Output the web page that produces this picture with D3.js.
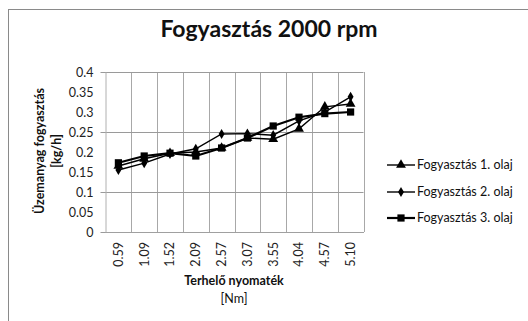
<!DOCTYPE html>
<html>
<head>
<meta charset="utf-8">
<script src="https://cdn.jsdelivr.net/npm/d3@7"></script>
<style>
  body { margin: 0; background: #fff; }
  svg { display: block; font-family: Lato, "Open Sans", sans-serif; }
</style>
</head>
<body>
<div id="chart"></div>
<script>
// data
var categories = ["0.59", "1.09", "1.52", "2.09", "2.57", "3.07", "3.55", "4.04", "4.57", "5.10"];
var olaj1 = [0.165, 0.183, 0.197, 0.200, 0.210, 0.235, 0.232, 0.258, 0.313, 0.320];
var olaj2 = [0.155, 0.172, 0.195, 0.208, 0.245, 0.246, 0.242, 0.278, 0.300, 0.338];
var olaj3 = [0.173, 0.190, 0.197, 0.190, 0.210, 0.235, 0.265, 0.287, 0.296, 0.300];
var seriesNames = ["Fogyasztás 1. olaj", "Fogyasztás 2. olaj", "Fogyasztás 3. olaj"];
var yTicks = [0, 0.05, 0.1, 0.15, 0.2, 0.25, 0.3, 0.35, 0.4];
var yGrid = [0, 0.1, 0.25, 0.4];

const width = 528;
const height = 321;

var plotLeft = 105.5, plotRight = 363.5, plotTop = 72, plotBottom = 232;

var series = [
    {name: seriesNames[0], values: olaj1, symbol: d3.symbolTriangle, size: 42, lw: 1.4},
    {name: seriesNames[1], values: olaj2, symbol: d3.symbolDiamond, size: 30, lw: 1.4},
    {name: seriesNames[2], values: olaj3, symbol: d3.symbolSquare, size: 52, lw: 2.2}
];

const svg = d3.select("#chart").append("svg")
    .attr("width", width)
    .attr("height", height);

// outer chart frame (only left and top visible)
svg.append("rect")
    .attr("x", 8.5).attr("y", 9.5)
    .attr("width", 540).attr("height", 340)
    .style("fill", "none")
    .style("stroke", "#8a8a8a")
    .style("stroke-width", 1);

// title
svg.append("text")
    .attr("x", 269).attr("y", 37)
    .attr("text-anchor", "middle")
    .style("font-size", "23px")
    .style("font-weight", "bold")
    .style("fill", "#111")
    .text("Fogyasztás 2000 rpm");

const x = d3.scaleBand()
    .domain(categories)
    .range([plotLeft, plotRight]);

const y = d3.scaleLinear()
    .domain([0, 0.4])
    .range([plotBottom, plotTop]);

// vertical gridlines at category borders
var vLines = categories.slice(1).map(function(c) { return x(c); }).concat([plotRight]);
svg.append("g").selectAll("line")
    .data(vLines)
    .enter().append("line")
    .attr("x1", function(d) { return Math.round(d) + 0.5; })
    .attr("x2", function(d) { return Math.round(d) + 0.5; })
    .attr("y1", plotTop)
    .attr("y2", plotBottom)
    .style("stroke", "#a8a8a8")
    .style("stroke-width", 1);

// horizontal gridlines + small ticks on the left
svg.append("g").selectAll("line")
    .data(yGrid)
    .enter().append("line")
    .attr("x1", plotLeft - 5)
    .attr("x2", plotRight)
    .attr("y1", function(d) { return Math.round(y(d)) + 0.5; })
    .attr("y2", function(d) { return Math.round(y(d)) + 0.5; })
    .style("stroke", "#9a9a9a")
    .style("stroke-width", 1);

// y axis
var yAxis = svg.append("g")
    .attr("transform", `translate(${plotLeft},0)`)
    .call(d3.axisLeft(y).tickValues(yTicks).tickSize(0).tickPadding(12)
        .tickFormat(function(d) { return String(+d.toFixed(2)); }));
yAxis.select(".domain").style("stroke", "#b0b0b0");
yAxis.selectAll("text")
    .style("font-size", "12.5px")
    .style("font-family", "Lato, sans-serif")
    .style("fill", "#222");

// x axis
var xAxis = svg.append("g")
    .attr("transform", `translate(0,${plotBottom})`)
    .call(d3.axisBottom(x).tickSize(0).tickPadding(0));
xAxis.select(".domain").style("stroke", "#a0a0a0");
xAxis.selectAll("text")
    .attr("transform", "rotate(-90)")
    .attr("text-anchor", "end")
    .attr("x", -10)
    .attr("y", 0)
    .attr("dy", "0.35em")
    .style("font-size", "12.5px")
    .style("font-family", "Lato, sans-serif")
    .style("fill", "#222");

// axis titles
var yTitle = svg.append("text")
    .attr("transform", "translate(44,151) rotate(-90)")
    .attr("text-anchor", "middle")
    .style("font-size", "12.5px")
    .style("font-weight", "bold")
    .style("fill", "#111");
yTitle.append("tspan").attr("x", 0).attr("y", 0).text("Üzemanyag fogyasztás");
yTitle.append("tspan").attr("x", 0).attr("y", 17).text("[kg/h]");

svg.append("text")
    .attr("x", 234).attr("y", 285)
    .attr("text-anchor", "middle")
    .style("font-size", "12.5px")
    .style("font-weight", "bold")
    .style("fill", "#111")
    .text("Terhelő nyomaték");
svg.append("text")
    .attr("x", 234).attr("y", 303)
    .attr("text-anchor", "middle")
    .style("font-size", "12.5px")
    .style("fill", "#111")
    .text("[Nm]");

// lines and markers
var line = d3.line()
    .x(function(d, i) { return x(categories[i]) + x.bandwidth() / 2; })
    .y(function(d) { return y(d); });

series.forEach(function(s) {
    svg.append("path")
        .datum(s.values)
        .attr("d", line)
        .style("fill", "none")
        .style("stroke", "#000")
        .style("stroke-width", s.lw);

    svg.append("g").selectAll("path")
        .data(s.values)
        .enter().append("path")
        .attr("d", d3.symbol().type(s.symbol).size(s.size))
        .attr("transform", function(d, i) {
            return `translate(${x(categories[i]) + x.bandwidth() / 2},${y(d)})`;
        })
        .style("fill", "#000");
});

// legend
var legendY = [165, 192, 218];
var legend = svg.append("g").selectAll("g")
    .data(series)
    .enter().append("g")
    .attr("transform", function(d, i) { return `translate(387,${legendY[i]})`; });

legend.append("line")
    .attr("x1", 0).attr("x2", 28)
    .attr("y1", 0).attr("y2", 0)
    .style("stroke", "#000")
    .style("stroke-width", function(d) { return d.lw; });

legend.append("path")
    .attr("d", function(d) { return d3.symbol().type(d.symbol).size(d.size)(); })
    .attr("transform", "translate(14,0)")
    .style("fill", "#000");

legend.append("text")
    .attr("x", 30).attr("y", 0)
    .attr("dy", "0.35em")
    .style("font-size", "12.5px")
    .style("fill", "#111")
    .text(function(d) { return d.name; });
</script>
</body>
</html>
